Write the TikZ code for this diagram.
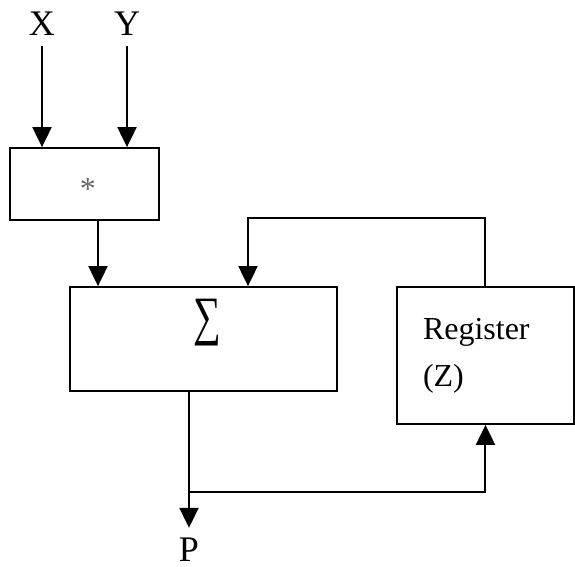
\documentclass[tikz,border=0pt]{standalone}
\usepackage{fontspec}
\setmainfont{Liberation Serif}
\usetikzlibrary{positioning,arrows.meta}

\begin{document}
\begin{tikzpicture}[x=0.5pt,y=-0.5pt,font=\fontsize{16}{23.5}\selectfont,
  blk/.style={draw=black, line width=0.9pt, inner sep=0pt},
  lbl/.style={inner sep=5pt, font=\fontsize{18}{20}\selectfont},
  arr/.style={-{Triangle[length=10pt,width=9.5pt]}, line width=1pt}]
  \useasboundingbox (0,0) rectangle (575,567);
  % boxes
  \node[blk, minimum width=74.5pt, minimum height=36pt] (mult) at (84.5,184)
    {\hspace*{3.5pt}\textcolor{black!60}{\raisebox{-8pt}[0pt][0pt]{*}}};
  \node[blk, minimum width=133.5pt, minimum height=52pt] (sum) at (203.5,339)
    {\hspace*{3.5pt}\raisebox{2pt}[0pt][0pt]{\scalebox{0.72}[1]{\fontsize{27}{27}\selectfont ∑}}};
  \node[blk, minimum width=88.5pt, minimum height=68.5pt, text width=62.5pt,
    inner xsep=13pt, align=left] (reg) at (485.5,355.5) {Register\\(Z)};
  % inputs and output
  \node[lbl] (x) at (42,24) {X};
  \node[lbl] (y) at (127,24) {Y};
  \node[lbl] (p) at (189,550) {P};
  \coordinate (m1) at ([xshift=6.75pt]mult.south);
  \coordinate (s1) at ([xshift=22.25pt]sum.north);
  \coordinate (s2) at ([xshift=-7.25pt]sum.south);
  \coordinate (br) at (189,492);
  \draw[arr] (x) -- (x |- mult.north);
  \draw[arr] (y) -- (y |- mult.north);
  \draw[arr] (m1) -- (m1 |- sum.north);
  \draw[arr] (s2) -- (p);
  \draw[arr] (br) -| (reg.south);
  % feedback from the register
  \draw[arr] (reg.north) -- ++(0,-68) -| (s1);
\end{tikzpicture}
\end{document}
